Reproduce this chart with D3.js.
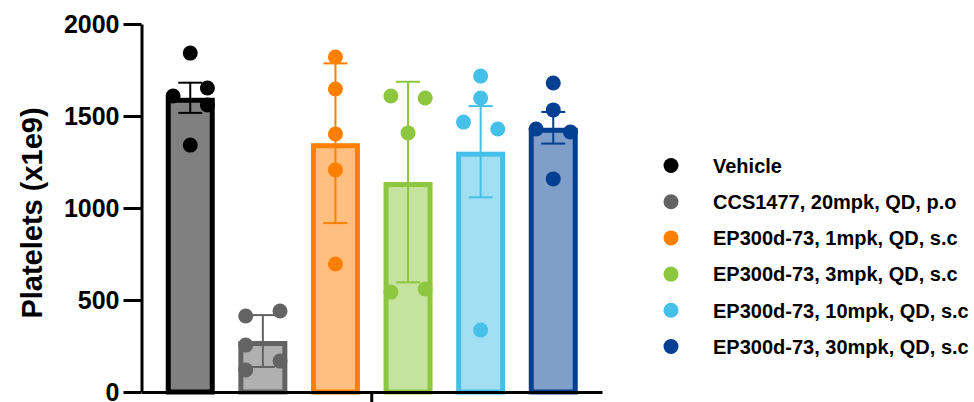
<!DOCTYPE html>
<html>
<head>
<meta charset="utf-8">
<script src="https://cdn.jsdelivr.net/npm/d3@7"></script>
<style>
  html, body { margin: 0; padding: 0; background: #fff; }
  svg { display: block; }
  text { font-family: "Liberation Sans", Arial, sans-serif; font-weight: bold; fill: #000; }
</style>
</head>
<body>
<svg id="chart" width="974" height="402"></svg>
<script>
// ---- data ----
const categories = [
  "Vehicle",
  "CCS1477, 20mpk, QD, p.o",
  "EP300d-73, 1mpk, QD, s.c",
  "EP300d-73, 3mpk, QD, s.c",
  "EP300d-73, 10mpk, QD, s.c",
  "EP300d-73, 30mpk, QD, s.c"
];
const barMeans = [1599, 277, 1352, 1141, 1306, 1436];
const errorHalf = [82, 141, 434, 545, 248, 86];
const pointValues = [
  [1842, 1652, 1609, 1560, 1342],
  [440, 413, 255, 168, 120],
  [1821, 1647, 1402, 1207, 696],
  [1609, 1598, 1408, 560, 543],
  [1717, 1598, 1467, 1429, 337],
  [1679, 1533, 1429, 1413, 1158]
];
// scatter lane of each point within its bar (-1 left, 0 centre, 1 right)
const pointLanes = [
  [0, 1, -1, 1, 0],
  [1, -1, -1, 1, -1],
  [0, 0, 0, 0, 0],
  [-1, 1, 0, 1, -1],
  [0, 0, -1, 1, 0],
  [0, 0, -1, 1, 0]
];
const yTicks = [0, 500, 1000, 1500, 2000];
const yTitle = "Platelets (x1e9)";

// ---- styles ----
const strokeColors = ["#000000", "#636363", "#FF8000", "#8DC63F", "#45C0E8", "#003F91"];
const fillColors   = ["#808080", "#B0B0B0", "#FFBF80", "#C6E29F", "#A2DFF2", "#7F9EC8"];
const dotColors    = ["#000000", "#636363", "#FF8000", "#8DC63F", "#45C0E8", "#003F91"];

const svg = d3.select("#chart");
const axisX0 = 141.5, axisX1 = 602, axisY0 = 392, axisY1 = 24;

const y = d3.scaleLinear().domain([0, 2000]).range([axisY0, axisY1]);
const x = d3.scaleBand().domain(categories).range([axisX0, axisX1])
  .paddingInner(0.325).paddingOuter(0.334);

const bw = x.bandwidth();
const sw = 5;

// bars (stroke drawn inside the bar outline)
svg.append("g").selectAll("rect").data(categories).join("rect")
  .attr("x", d => x(d) + sw / 2)
  .attr("y", (d, i) => y(barMeans[i]) + sw / 2)
  .attr("width", bw - sw)
  .attr("height", (d, i) => y(0) - y(barMeans[i]) - sw / 2)
  .attr("fill", (d, i) => fillColors[i])
  .attr("stroke", (d, i) => strokeColors[i])
  .attr("stroke-width", sw);

// error bars
const capW = 24;
const eg = svg.append("g");
categories.forEach((c, i) => {
  const cx = x(c) + bw / 2;
  const hi = y(barMeans[i] + errorHalf[i]);
  const lo = y(barMeans[i] - errorHalf[i]);
  const g = eg.append("g").attr("stroke", strokeColors[i]).attr("stroke-width", 2).attr("fill", "none");
  g.append("line").attr("x1", cx).attr("x2", cx).attr("y1", hi).attr("y2", lo);
  g.append("line").attr("x1", cx - capW / 2).attr("x2", cx + capW / 2).attr("y1", hi).attr("y2", hi);
  g.append("line").attr("x1", cx - capW / 2).attr("x2", cx + capW / 2).attr("y1", lo).attr("y2", lo);
});

// points
const laneStep = bw * 0.35;
const pg = svg.append("g");
categories.forEach((c, i) => {
  const cx = x(c) + bw / 2;
  pg.append("g").selectAll("circle").data(pointValues[i]).join("circle")
    .attr("cx", (v, j) => cx + pointLanes[i][j] * laneStep)
    .attr("cy", v => y(v))
    .attr("r", 7.5)
    .attr("fill", dotColors[i]);
});

// y axis
const yAxis = svg.append("g").attr("transform", `translate(${axisX0},0)`)
  .call(d3.axisLeft(y).tickValues(yTicks).tickSize(18).tickSizeOuter(0).tickPadding(4).tickFormat(d3.format("d")));
yAxis.select(".domain").attr("stroke", "#000").attr("stroke-width", 3);
yAxis.selectAll(".tick line").attr("stroke", "#000").attr("stroke-width", 3);
yAxis.selectAll(".tick text").attr("font-size", 25).attr("font-family", null).attr("fill", "#000").attr("dy", "0.35em");

// x axis (single group tick)
const xg = d3.scaleBand().domain(["group"]).range([axisX0, axisX1]);
const xAxis = svg.append("g").attr("transform", `translate(0,${axisY0})`)
  .call(d3.axisBottom(xg).tickSize(12).tickSizeOuter(0).tickFormat(""));
xAxis.select(".domain").attr("stroke", "#000").attr("stroke-width", 3);
xAxis.selectAll(".tick line").attr("stroke", "#000").attr("stroke-width", 3);

// y title
svg.append("text")
  .attr("transform", `translate(42,${(axisY0 + axisY1) / 2 + 5}) rotate(-90)`)
  .attr("text-anchor", "middle")
  .attr("font-size", 29)
  .text(yTitle);

// legend
const ly = d3.scalePoint().domain(categories).range([165.5, 346.5]);
const lg = svg.append("g");
categories.forEach((c, i) => {
  lg.append("circle").attr("cx", 671).attr("cy", ly(c)).attr("r", 7.5).attr("fill", dotColors[i]);
  lg.append("text").attr("x", 713).attr("y", ly(c)).attr("dy", "0.36em")
    .attr("font-size", 20).text(c);
});
</script>
</body>
</html>
